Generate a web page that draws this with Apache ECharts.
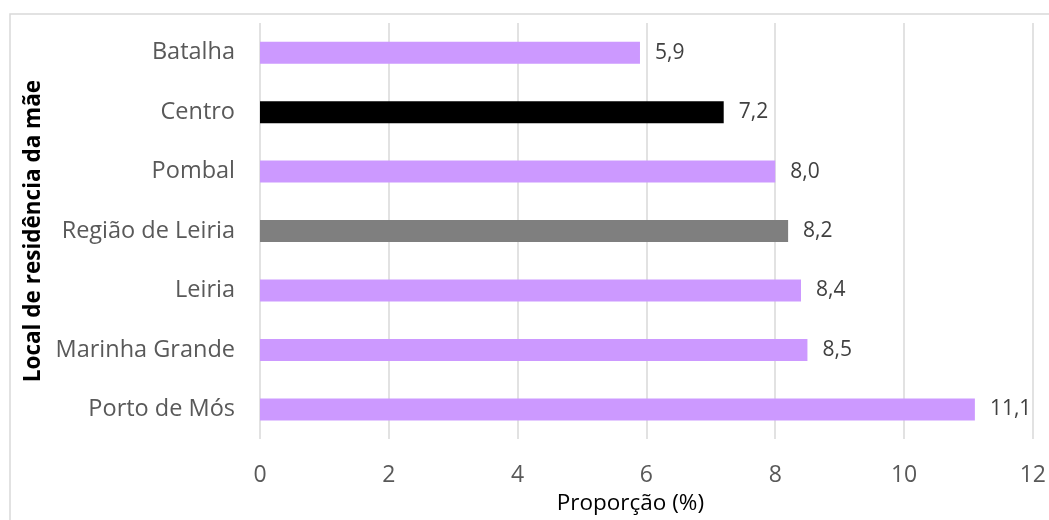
<!DOCTYPE html>
<html>
<head>
<meta charset="utf-8">
<script src="https://cdn.jsdelivr.net/npm/echarts@6/dist/echarts.min.js"></script>
<style>
  html, body { margin: 0; padding: 0; background: #fff; }
  #chart { width: 1049px; height: 520px; }
</style>
</head>
<body>
<div id="chart"></div>
<script>
// Proporção por local de residência da mãe (de cima para baixo)
const categories = ['Batalha', 'Centro', 'Pombal', 'Região de Leiria', 'Leiria', 'Marinha Grande', 'Porto de Mós'];
const values = [5.9, 7.2, 8.0, 8.2, 8.4, 8.5, 11.1];
const barColors = ['#cc99ff', '#000000', '#cc99ff', '#7f7f7f', '#cc99ff', '#cc99ff', '#cc99ff'];
const xTicks = [0, 2, 4, 6, 8, 10, 12];

const FONT = '"Open Sans", "Noto Sans", sans-serif';
const chart = echarts.init(document.getElementById('chart'), null, { renderer: 'canvas' });

chart.setOption({
  animation: false,
  backgroundColor: '#ffffff',
  graphic: [{
    type: 'rect',
    shape: { x: 10, y: 14, width: 1100, height: 600 },
    style: { fill: 'none', stroke: '#d9d9d9', lineWidth: 1.5 },
    silent: true,
    z: -1
  }],
  grid: { left: 260, right: 15, top: 23, bottom: 67, containLabel: false },
  xAxis: {
    type: 'value',
    min: xTicks[0],
    max: xTicks[xTicks.length - 1],
    interval: 2,
    name: 'Proporção (%)',
    nameLocation: 'middle',
    nameGap: 48,
    nameTextStyle: { fontFamily: FONT, fontSize: 22.5, color: '#000000', padding: [0, 32, 0, 0] },
    axisLine: { show: false },
    axisTick: { show: false },
    axisLabel: { fontFamily: FONT, fontSize: 23, color: '#595959', margin: 25 },
    splitLine: { show: true, lineStyle: { color: '#d9d9d9', width: 1.5 } }
  },
  yAxis: {
    type: 'category',
    data: categories,
    inverse: true,
    name: 'Local de residência da mãe',
    nameLocation: 'middle',
    nameGap: 214,
    nameRotate: 90,
    nameTextStyle: { fontFamily: FONT, fontSize: 22.5, fontWeight: 'bold', color: '#000000' },
    axisLine: { show: false },
    axisTick: { show: false },
    axisLabel: { fontFamily: FONT, fontSize: 23.5, color: '#595959', margin: 25 }
  },
  series: [{
    type: 'bar',
    data: values.map((v, i) => ({ value: v, itemStyle: { color: barColors[i] } })),
    barWidth: 22,
    label: {
      show: true,
      position: 'right',
      distance: 15,
      fontFamily: FONT,
      fontSize: 21,
      color: '#404040',
      formatter: p => p.value.toFixed(1).replace('.', ',')
    }
  }]
});
</script>
</body>
</html>
